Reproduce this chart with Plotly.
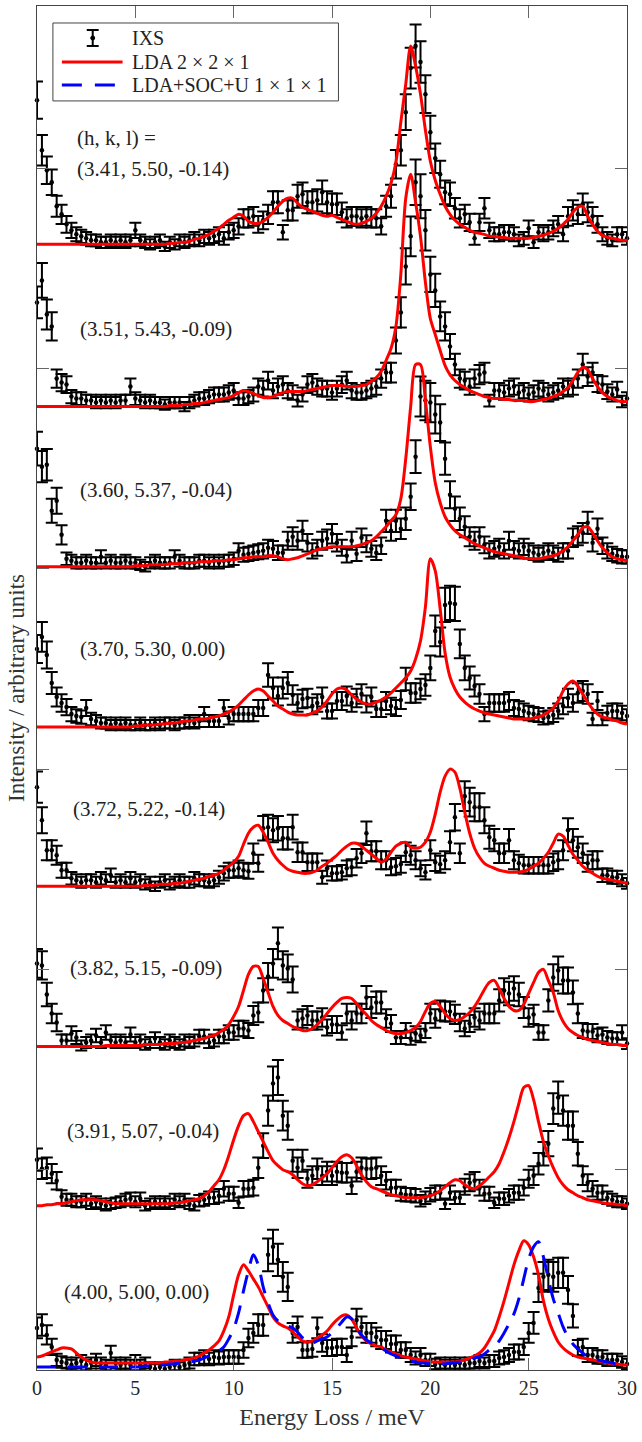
import math
import plotly.graph_objects as go

# Energy grid (meV), 0.25 meV sampling from 0 to 30
ENERGY_STEP = 0.25
N_POINTS = 121
ENERGY = [i * ENERGY_STEP for i in range(N_POINTS)]

Q_LABELS = ["(3.41, 5.50, -0.14)", "(3.51, 5.43, -0.09)", "(3.60, 5.37, -0.04)",
            "(3.70, 5.30, 0.00)", "(3.72, 5.22, -0.14)", "(3.82, 5.15, -0.09)",
            "(3.91, 5.07, -0.04)", "(4.00, 5.00, 0.00)"]
# vertical offsets of the stacked spectra (arbitrary units)
OFFSETS = [5.61, 4.81, 4.01, 3.21, 2.415, 1.615, 0.82, 0.015]

# Intensities above each offset, in units of 0.01
S1_IXS = [73,48,38,32,20,16,11,8,6,5,4,3,3,2,2,3,2,3,2,3,
          8,3,2,1,2,3,0,2,1,3,2,3,4,3,5,4,5,6,4,7,
          8,10,14,14,15,11,13,16,22,22,7,18,18,25,26,22,22,23,27,22,
          21,21,17,14,15,15,14,15,14,14,10,20,25,41,48,67,89,100,92,76,
          57,44,36,27,26,19,14,16,12,4,12,19,8,6,6,7,7,6,3,4,
          9,2,7,6,7,9,11,6,15,18,16,21,17,15,11,6,4,3,6,6,
          4]
S1_LDA = [1,1,1,1,1,1,1,1,1,1,1,1,1,1,1,1,1,1,1,1,
          1,1,1,1,1,1,1,1.5,1.5,2,2,2.5,3.5,4,5,6,7.5,9,11,13,
          14.5,16,15,12.5,11.5,11.5,12.5,14.5,17,20,22.5,24,24,21.5,19.5,18.5,17.5,16.5,15.5,15,
          15.5,14.5,13.5,12.5,11.5,11,11.5,12.5,14,16.5,20,25,31.5,42,62,81,100,90,76,58,
          42.5,33,26,20,16,13,11,9.5,8,7,6.5,6,5,5,4.5,4.5,4,4,4,4,
          4,4.5,5,5.5,6.5,7.5,9,11,13.5,17,19.5,20,15,11,7.5,5.5,4.5,4,3.5,3,
          3]

S2_IXS = [52,63,46,40,14,12,11,5,4,4,3,3,2,3,2,3,2,3,3,10,
          4,3,2,3,2,2,1,2,2,2,0,2,3,4,4,5,6,6,6,7,
          8,4,4,5,6,10,9,13,8,10,11,8,7,3,6,11,12,10,9,9,
          7,9,11,13,8,7,7,8,9,10,14,17,17,33,47,70,85,112,105,88,
          66,58,45,40,30,21,14,13,10,14,16,17,3,8,8,7,9,10,7,8,
          6,7,9,8,6,7,8,10,9,10,14,21,15,17,11.5,11,7.5,6,8.5,2.5,
          4]
S2_LDA = [0]*20 + \
         [0,0,0,0,0,0,0,0.5,0.5,0.5,1,1,1.5,1.5,2,2.5,3,3.5,4,4.5,
          5.5,7,8,7.5,6.5,5.5,4.5,4.5,5,6,7,7.5,7.5,7.5,7.5,8,8.5,9,9.5,10,
          10.5,10.5,10.5,10,10,10,10.5,11,12.5,14.5,17.5,23,29,40,66,104,116,102,85,62,
          44,36,28,20.5,16,13,11,9.5,8,7,6,5,4.5,4,4,3.5,3.5,3,3,3,
          2.5,2.5,3,3.5,4,5,6,7.5,9.5,13,17,19.5,18.5,14,10,7,5,4,3,2.5,
          2.5]

S3_IXS = [59,50,51,28,33,16,4,3,2,2,3,2,2,5,2,3,2,2,3,2,
          2,1,0,2,3,2,2,2,5,3,2,2,2,3,3,2,3,2,3,3,
          4,8,6,6.5,7,7.5,8,9.5,9,7,7,13,15,13,18,12,8,9.5,13,14,
          16.5,12,9.5,5.5,13,6.5,14.5,11.5,9,7,10.5,23,18,23,19,24,35,55,85,83,
          82,76,72,54,36,29,24,20,15,13,15,11,8,9,10,8,13,9,8,10,
          8,7,6,7,8,7,6,8,8,14.5,15.5,17,22,12,19,10.5,8,6.5,5.5,5,
          5]
S3_LDA = [0]*20 + \
         [0.5,0.5,0.5,1,1,1,1,1.5,1.5,1.5,2,2,2,2.5,2.5,2.5,3,3,3,3.5,
          3.5,4,4.5,4.5,5,5,5,5.5,5.5,5,4,3.5,4,4.5,5.5,6.5,7.5,8.5,9,9.5,
          10,10,10,10,10,10.5,11,12,13,15,17.5,20,23,26,34,54,80,101,101,83,
          60,42,32,25,21,18,16,14.5,13,11.5,10.5,9.5,8.5,7.5,7,6.5,6,5.5,5,4.5,
          4,4,4,4.5,5,5.5,6.5,8,10,13,16,19.5,20,17,13,9.5,7,5,4,3.5,
          3]

S4_IXS = [39,45,36,22,15,12,10,6.5,5.5,5,9.5,4,3,2,2,1,2,1,2,1,
          1,2,1,1,2,1,2,2,1,2,2,3,2,3,6.5,3,3,3,9.5,4.5,
          6.5,6.5,6.5,6.5,6.5,9.5,9.5,26,19.5,15.5,19.5,22,16,12,14,14.5,10.5,12,15,8,
          8,13,13,15.5,12,14.5,16.5,11.5,15,9,9,13,10.5,9.5,13.5,24,17,17,19,21,
          29.5,48,42.5,61,62,61.5,41.5,29.5,24.5,20.5,16.5,6.5,12,12,12,12,13,9.5,9,8,
          7,6.5,6,4.5,5,6,8,10.5,14.5,12,17,18,16.5,4,13,4,7,8,8,7,
          5.5]
S4_LDA = [0]*20 + \
         [0.5,0.5,1,1,1,1.5,1.5,2,2,2.5,3,3,3.5,4,4,4.5,5,5.5,6.5,7.5,
          9,11,13.5,16,18,19,18,15.5,13,10.5,9,7.5,6.5,6,6,6,7,8,10,13,
          16.5,19,19.5,18.5,16,14,12.5,11.5,11.5,12.5,13.5,15,17,19.5,22,24.5,28,34,43,60,
          84,78,59,37,25,19,15,12.5,10.5,9,8,7,6.5,6,5.5,5,4.5,4,4,4,
          4,4.5,5,6,7.5,9.5,13,18,21.5,23,20.5,16.5,12.5,9,6.5,5,4.5,3.5,3,2,
          1.5]

S5_IXS = [49.5,33,18,18,15.5,8,8,4,3,2,3,3,2,4,3,5.5,2,3,2,4,
          2,3,1,2,0,2,3,1,2,3,2,2,4,3,3,2,3,4.5,6.5,8,
          8,9,8,7.5,16.5,11.5,29,29.5,28,29,24,24,29.5,17,17,12,12,12,4.5,9,
          6.5,6.5,7,9,9.5,14,16.5,26.5,17.5,17.5,13,13,9.5,10,11,17,15.5,13,9,7,
          18,12,11,13,22,34.5,16.5,45,42,39.5,39.5,33,24.5,23,16.5,16.5,23,13,11.5,10.5,
          10.5,10.5,10.5,10.5,10.5,12,13,18,28,23,19.5,16.5,11.5,13,13,5.5,5.5,4.5,4.5,3,
          1.5]
S5_LDA = [0]*20 + \
         [0,0,0.5,0.5,0.5,1,1,1,1.5,1.5,2,2.5,3,3.5,4,5,5.5,6.5,8,10,
          12,15,21,26.5,29.5,30.5,27,22,16.5,13,10.5,8.5,7.5,7,6.5,6.5,7,8,10,11.5,
          13.5,15.5,18,20,21.5,21.5,20,18,16,14,12,13.5,17,20,21.5,22,19.5,19,19.5,22,
          27,36,47,55,58.5,57,49,37,26.5,19,14.5,11.5,10,9,8,7.5,7,7,7,7.5,
          8.5,10,11.5,14,17,21.5,26,25,20.5,16,13,10,8,6.5,5,4,3.5,3,2.5,2,
          1.5]

S6_IXS = [41.5,40.5,26,16.5,12,3,3,6.5,4.5,0.5,2,3,5.5,2,7,3,2,3,2,6,
          2,3,1,2,4,2,1,3,2,1,3,2,3,5,5,2,3,5,5,7,
          7,9,9,8,15.5,17,28,35,41.5,51.5,40.5,39,33.5,13,14,15.5,13,13,14.5,9.5,
          11,11,7,16.5,13,16.5,16.5,24.5,19.5,22,22,14,11.5,4.5,4.5,8,4,6.5,5.5,8,
          16.5,14,18,17.5,17.5,16,12,9,11.5,14.5,13,16.5,16.5,16.5,23,28,26.5,29,26,19.5,
          14.5,16,7,7,23,34.5,38,33,33,27,16.5,8,7.5,7.5,5.5,6,4.5,4,4,7,
          1.5]
S6_LDA = [0,0,0,0,0,0,0,0,0,0,0,0,0,0,0.5,0.5,0.5,0.5,0.5,0.5,
          0.5,0.5,1,1,1,1,1.5,1.5,1.5,2,2,2.5,3,3.5,4,5,5.5,7,8.5,11,
          15,20,28,36,40,40,34,27,20,15.5,13,11.5,10,9,8,8,9,11,13.5,16.5,
          19.5,22,24,24.5,24,21.5,18.5,16,13,11,9.5,8,7,6.5,6.5,7,8,9.5,12.5,17.5,
          21.5,22.5,20,16.5,14,13,13.5,15,17,20,24,28.5,32,33,29,24,20,18,18,21,
          26.5,32,37,38.5,33,27,18,12.5,9,7,5.5,4.5,3.5,3,2.5,2,1.5,1,1,0.5,
          0.5]

S7_IXS = [23,18.5,19,16,12.5,4.5,3,3,2,2,3,1,2,1,0,1,1.5,2,3,3.5,
          2,3.5,0,1,2,1,2,1,3,2,3,1,0,2.5,3,4,4,5,8.5,6,
          6,1.5,8.5,8.5,9,19,30,47.5,61,64,45,40,22.5,19,22.5,13.5,15,18.5,15,17,
          15,17,16.5,16.5,10,17,19,18.5,18.5,19,15,12.5,9,9,6,5.5,5.5,5,2.5,4,
          5.5,6.5,6.5,1,6.5,4,4,9.5,11.5,12.5,9,6,6,1.5,3.5,3.5,5,6.5,6.5,9,
          13.5,15,21,26,31,48.5,54,47.5,40,40,26,15,11.5,8.5,6.5,6.5,4,3,2,2,
          1]
S7_LDA = [0,0,0.5,0.5,1,1,1.5,2,2.5,3,3,3,3,2.5,2,1.5,1,1,1,1,
          1,1,1,1,1,1,1,1,1.5,1.5,2,2.5,3,3.5,5,7,10,13,18,25,
          33,40,45,46,42,37,32,27,22.5,20,18,17,15.5,13,11,10,10.5,12,14,16,
          19,22,24.5,25.5,24,20,15.5,12,9.5,8.5,7.5,6.5,5.5,5,4.5,4,4,4,4,4.5,
          5,6,7.5,9.5,11.5,13,12.5,10.5,9,8.5,10,12,14.5,17,21,27,34,42,51,59,
          60,53,42,32,25,19,14,10.5,8,6.5,5,4,3,2.5,2,1.5,1,1,0.5,0.5,
          0]

S8_IXS = [19.5,21,16,10,3.5,2.5,2,1,2,3,1,2,3.5,2,1,7,2,1,2,1,
          3,1,2,0,-1,0,-1,0,1,0,1,2,4,4,5,4,5,4.5,5,5,
          5,5,8.5,14.5,17,21,21,56,60,53.5,45,40,17,20,8.5,8.5,9,19.5,12,9.5,
          9.5,10,10,6,15,23.5,20,17,17,15,13.5,13.5,11.5,11.5,8.5,8.5,6,4.5,6,3.5,
          3.5,1.5,2,1,2,1,2,1,2,2,3,2,3,3,4.5,5,6,7.5,7.5,10,
          17,22,39.5,45,46,45,47,47,38.5,25.5,9.5,10,6,6,5,5,3.5,3.5,3.5,2.5,
          1.5]
S8_LDA = [5,5.5,6.5,7.5,8.5,9.5,9.5,9,7,5,3.5,2.5,2,2,2,2,2,2,2,2,
          2,2,2,2,2,2,2.5,2.5,3,3,3.5,4,4.5,5.5,7,8.5,10.5,13,18,25,
          36,46,51,48,44,40,35,30,25,22,20.5,19.5,17.5,15,13,12.5,13,14.5,16,18,
          21,23.5,25.5,26,24,19.5,15.5,13,11.5,10.5,10,8.5,7.5,6.5,5.5,5,4.5,4,3.5,3,
          2.5,2.5,2.5,2.5,2.5,2.5,3,3.5,4.5,5.5,7,9.5,13.5,18,25,33,42,51,58,63,
          61,55,46,33,24,17.5,12.5,9.5,7.5,6,5,4.5,4,3.5,3,2.5,2,1.5,1.5,1,
          1]
S8_SOC = [0]*20 + \
         [0,0,0.5,0.5,0.5,1,1,1.5,1.5,2,2,2.5,3,3.5,4.5,5.5,6.5,8,10,14,
          19,27,38,48,56,51,40,32,26,23,21.5,20.5,19.5,17.5,14.5,12.5,12,13,14,15,
          17,19.5,22.5,25,24,19.5,16,13.5,12,11,9.5,8,6.5,5.5,4.5,3.5,3,2.5,2,2,
          1.5,1.5,1.5,1.5,2,2,2.5,3,3.5,4.5,5,6.5,8.5,10.5,13,17,21.5,26.5,34,44,
          54,60,62.5,55,44,34,27,20,15,11.5,9,7,5,4,3.5,3,2.5,2,1.5,1,
          1]

IXS = [S1_IXS, S2_IXS, S3_IXS, S4_IXS, S5_IXS, S6_IXS, S7_IXS, S8_IXS]
LDA = [S1_LDA, S2_LDA, S3_LDA, S4_LDA, S5_LDA, S6_LDA, S7_LDA, S8_LDA]

LEGEND_NAMES = ["IXS", "LDA 2 × 2 × 1", "LDA+SOC+U 1 × 1 × 1"]

# label anchor positions (meV, intensity)
LABEL_POS = [(1.92, 5.995), (2.07, 5.197), (2.07, 4.394), (2.07, 3.601),
             (1.72, 2.803), (1.57, 2.005), (1.42, 1.192), (1.26, 0.389)]

FONT = "Liberation Serif, Times New Roman, serif"
SCALE = 0.01
RED = "#ff0000"
BLUE = "#0000ff"

# plot-area geometry in pixels (for the legend box)
W, H = 642, 1442
ML, MR, MT, MB = 37, 12, 5, 72
PW, PH = W - ML - MR, H - MT - MB


def px(x, y):
    return (x - ML) / PW, 1 - (y - MT) / PH


fig = go.Figure()

for i, (vals, off) in enumerate(zip(IXS, OFFSETS)):
    y = [off + v * SCALE for v in vals]
    err = [0.0105 * math.sqrt(max(v, 0) + 5) for v in vals]
    fig.add_trace(go.Scatter(
        x=ENERGY, y=y, mode="markers", name=LEGEND_NAMES[0], showlegend=False,
        marker=dict(color="black", size=4.5),
        error_y=dict(type="data", array=err, visible=True, color="black",
                     thickness=2, width=6),
        cliponaxis=False,
    ))

for i, (vals, off) in enumerate(zip(LDA, OFFSETS)):
    y = [off + v * SCALE for v in vals]
    fig.add_trace(go.Scatter(
        x=ENERGY, y=y, mode="lines", name=LEGEND_NAMES[1], showlegend=False,
        line=dict(color=RED, width=3, shape="spline", smoothing=0.8),
    ))

fig.add_trace(go.Scatter(
    x=ENERGY, y=[OFFSETS[7] + v * SCALE for v in S8_SOC], mode="lines",
    name=LEGEND_NAMES[2], showlegend=False,
    line=dict(color=BLUE, width=3, dash="19px,12px", shape="spline", smoothing=0.8),
))

annotations = [dict(x=1.92, y=6.15, xref="x", yref="y", text="(h, k, l) =",
                    showarrow=False, xanchor="left", yanchor="middle",
                    font=dict(family=FONT, size=21, color="#222"))]
for lab, (lx, ly) in zip(Q_LABELS, LABEL_POS):
    annotations.append(dict(x=lx, y=ly, xref="x", yref="y", text=lab,
                            showarrow=False, xanchor="left", yanchor="middle",
                            font=dict(family=FONT, size=21, color="#222")))

# legend (drawn as a boxed key)
shapes = []
x0, y0 = px(53, 22)
x1, y1 = px(340, 100)
shapes.append(dict(type="rect", xref="paper", yref="paper", x0=x0, y0=y1, x1=x1, y1=y0,
                   line=dict(color="#444", width=1), fillcolor="white", layer="above"))
# error-bar glyph
ex, _ = px(93, 0)
ecl, _ = px(87, 0)
ecr, _ = px(99, 0)
_, et = px(0, 29)
_, eb = px(0, 45)
_, em = px(0, 37)
shapes += [
    dict(type="line", xref="paper", yref="paper", x0=ex, x1=ex, y0=et, y1=eb,
         line=dict(color="black", width=2), layer="above"),
    dict(type="line", xref="paper", yref="paper", x0=ecl, x1=ecr, y0=et, y1=et,
         line=dict(color="black", width=2), layer="above"),
    dict(type="line", xref="paper", yref="paper", x0=ecl, x1=ecr, y0=eb, y1=eb,
         line=dict(color="black", width=2), layer="above"),
]
dl, dt = px(91, 35)
dr, db = px(95, 39)
shapes.append(dict(type="circle", xref="paper", yref="paper", x0=dl, x1=dr, y0=db, y1=dt,
                   line=dict(color="black", width=1), fillcolor="black", layer="above"))
lx0, ly_red = px(62, 61)
lx1, ly_blue = px(123, 84)
shapes.append(dict(type="line", xref="paper", yref="paper", x0=lx0, x1=lx1, y0=ly_red, y1=ly_red,
                   line=dict(color=RED, width=3), layer="above"))
shapes.append(dict(type="line", xref="paper", yref="paper", x0=lx0, x1=lx1, y0=ly_blue, y1=ly_blue,
                   line=dict(color=BLUE, width=3, dash="20px,13px"), layer="above"))
for name, ypx in zip(LEGEND_NAMES, [37, 61, 84]):
    tx, ty = px(130, ypx)
    annotations.append(dict(x=tx, y=ty, xref="paper", yref="paper", text=name,
                            showarrow=False, xanchor="left", yanchor="middle",
                            font=dict(family=FONT, size=20, color="#222")))

axis_common = dict(showline=True, linecolor="#444", linewidth=1, mirror="ticks",
                   ticks="inside", ticklen=12, tickcolor="#666", tickwidth=1,
                   showgrid=False, zeroline=False)

fig.update_layout(
    width=W, height=H,
    margin=dict(l=ML, r=MR, t=MT, b=MB),
    paper_bgcolor="white", plot_bgcolor="white",
    font=dict(family=FONT, size=19, color="#262626"),
    showlegend=False,
    annotations=annotations,
    shapes=shapes,
    xaxis=dict(range=[0, 30], tickvals=[0, 5, 10, 15, 20, 25, 30],
               tickfont=dict(family=FONT, size=20, color="#262626"),
               title=dict(text="Energy Loss / meV", standoff=10,
                          font=dict(family=FONT, size=24, color="#333")),
               **axis_common),
    yaxis=dict(range=[0, 6.81], tickvals=[0, 1, 2, 3, 4, 5, 6],
               showticklabels=False,
               title=dict(text="Intensity / arbitrary units", standoff=4,
                          font=dict(family=FONT, size=23, color="#333")),
               **axis_common),
)

fig.write_html("out.html")
